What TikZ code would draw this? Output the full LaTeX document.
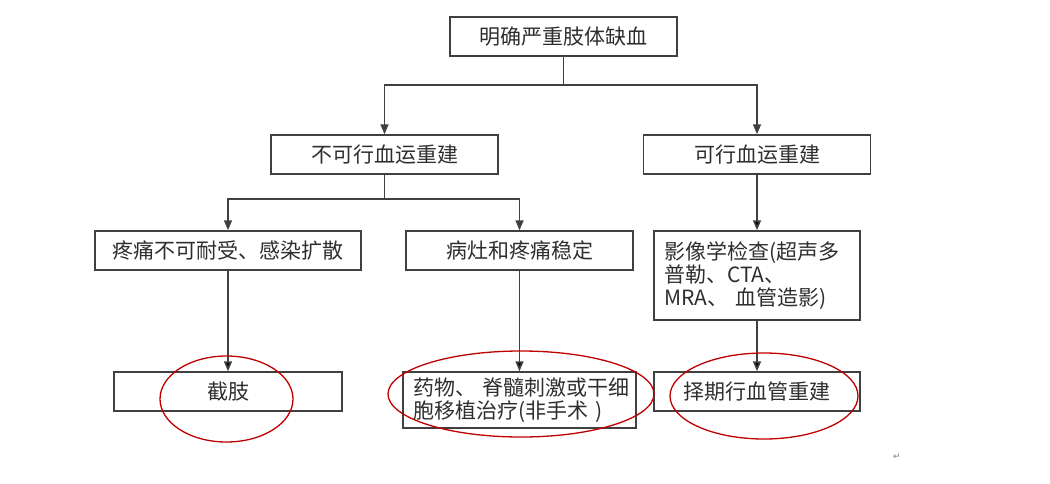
\documentclass[tikz,border=0pt]{standalone}
\usepackage{fontspec}
\setmainfont{Noto Sans CJK SC}
\newfontfamily\symfont{DejaVu Sans}
\usetikzlibrary{arrows.meta, shapes.geometric}
\definecolor{linegray}{HTML}{404040}
\definecolor{textgray}{HTML}{2E2E2E}
\definecolor{ringred}{HTML}{C00000}
\begin{document}
\begin{tikzpicture}[x=1pt, y=-1pt, >={Triangle[width=8pt,length=10pt]},
    box/.style={draw=linegray, line width=1.5pt, text=textgray, inner sep=0pt,
                minimum height=39pt, font=\fontsize{21}{23}\selectfont},
    ring/.style={draw=ringred, ellipse, line width=1.3pt, inner sep=0pt},
    link/.style={draw=linegray, line width=1.7pt}]
    \useasboundingbox (0,0) rectangle (1050,483);

    \node [box, minimum width=227pt] (clti) at (563.5, 36.5) {明确严重肢体缺血};
    \node [box, minimum width=227pt] (nonrev) at (384.5, 154.5) {不可行血运重建};
    \node [box, minimum width=227pt] (rev) at (757, 154.5) {可行血运重建};
    \node [box, minimum width=266pt] (pain) at (228, 250.5) {疼痛不可耐受、感染扩散};
    \node [box, minimum width=227pt] (stable) at (519.5, 250.5) {病灶和疼痛稳定};
    \node [box, minimum width=206pt, minimum height=89pt, align=left, text width=186pt]
          (imaging) at (757, 275.5) {影像学检查(超声多\\普勒、CTA、\\MRA、~血管造影)};
    \node [box, minimum width=228pt] (amp) at (228, 391.5) {截肢};
    \node [box, minimum width=233pt, minimum height=56pt, align=left, text width=213pt]
          (drug) at (519.5, 400) {药物、~脊髓刺激或干细\\胞移植治疗(非手术~)};
    \node [box, minimum width=206pt] (recon) at (757, 391.5) {择期行血管重建};

    \draw [link, ->] (clti.south) -- ++(0,28.5) -| (nonrev);
    \draw [link, ->] (clti.south) -- ++(0,28.5) -| (rev);
    \draw [link, ->] (nonrev.south) -- ++(0,24) -| (pain);
    \draw [link, ->] (nonrev.south) -- ++(0,24) -| (stable);
 \path [link, ->]
      (rev) edge (imaging)
      (pain) edge (amp)
      (stable) edge (drug)
      (imaging) edge (recon);

    \node [ring, minimum width=133pt, minimum height=86pt] (ring1) at (226.5, 399) {};
    \node [ring, minimum width=266pt, minimum height=86pt] (ring2) at (521, 394) {};
    \node [ring, minimum width=188pt, minimum height=86pt] (ring3) at (764, 396) {};

    \node [text=gray, font=\symfont\fontsize{9}{9}\selectfont] (mark) at (897, 457) {↵};
\end{tikzpicture}
\end{document}
